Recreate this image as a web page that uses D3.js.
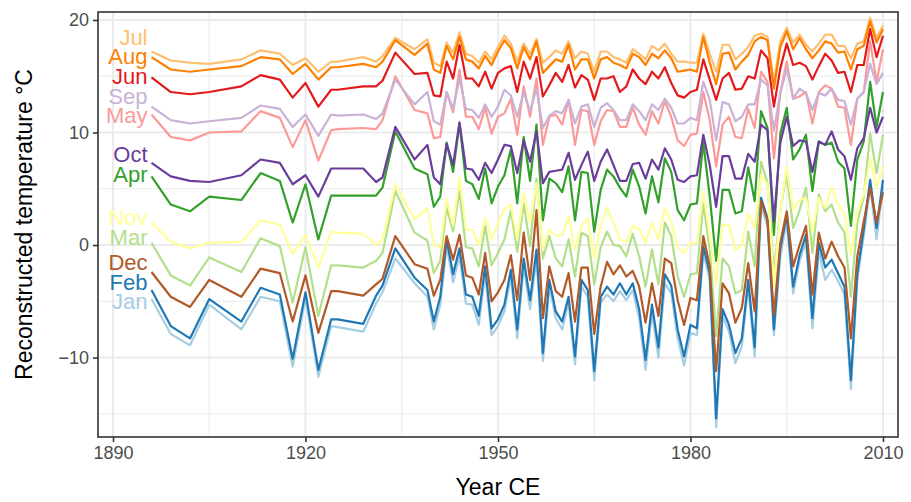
<!DOCTYPE html>
<html>
<head>
<meta charset="utf-8">
<script src="https://cdn.jsdelivr.net/npm/d3@7"></script>
<style>
  body { margin: 0; background: #fff; }
  text { font-family: "Liberation Sans", Arial, Helvetica, sans-serif; }
</style>
</head>
<body>
<div class="chart"></div>
<script>
// years with a reconstruction (sparse before 1939)
const years = [1896,1899,1902,1905,1910,1913,1916,1918,1920,1922,1924,1925,
  1929,1931,1932,1934,1937,
  1939,1940,1941,1942,1943,1944,1945,1946,1947,1948,1949,1950,1951,1952,1953,1954,
  1955,1956,1957,1958,1959,1960,1961,1962,1963,1964,1965,1966,1967,1968,1969,1970,
  1971,1972,1973,1974,1975,1976,1977,1978,1979,1980,1981,1982,1983,1984,1985,1986,
  1987,1988,1989,1990,1991,1992,1993,1994,1995,1996,1997,1998,1999,2000,2001,2002,
  2003,2004,2005,2006,2007,2008,2009,2010];

// monthly temperatures, one list per month (degrees C)
const jan = [-4.8,-7.9,-8.9,-5.3,-7.5,-4.6,-5.0,-10.8,-4.7,-11.7,-7.2,-7.3,
  -7.7,-5.2,-4.2,-1.2,-3.4,-4.6,-7.5,-5.3,-0.1,-3.3,-1.0,-5.2,-5.3,-7.1,-2.6,
  -8.0,-7.2,-5.9,-2.8,-8.3,-1.9,-5.7,-1.2,-10.3,-3.7,-6.5,-7.5,-5.1,-10.6,-3.7,-4.6,-12.0,-5.1,-4.4,-5.0,-4.1,
  -4.9,-4.0,-6.5,-11.1,-6.0,-10.0,-3.4,-4.3,-8.3,-10.7,-7.8,-8.0,-0.7,-3.1,-16.2,-6.3,-7.7,-10.5,-9.0,-3.7,
  -9.9,3.4,1.7,-8.0,-1.0,2.1,-4.3,-1.4,0.3,-7.4,-0.6,-3.1,-2.2,-3.2,-4.4,-12.8,-3.1,0.8,5.2,0.5,5.2];
const feb = [-4.0,-7.2,-8.3,-4.8,-6.8,-3.8,-4.4,-10.1,-4.2,-11.1,-6.6,-6.6,
  -7.0,-4.5,-3.6,-0.3,-2.9,-4.0,-6.8,-4.6,0.5,-2.6,-0.3,-4.4,-4.6,-6.3,-1.9,
  -7.4,-6.6,-5.3,-2.2,-7.5,-1.2,-4.9,-0.4,-9.6,-3.1,-5.9,-6.8,-4.6,-9.9,-3.1,-4.0,-11.2,-4.6,-3.7,-4.4,-3.4,
  -4.4,-3.4,-5.7,-10.2,-5.3,-9.1,-2.6,-3.6,-7.5,-9.9,-7.1,-7.4,-0.1,-2.5,-15.4,-5.7,-7.1,-9.6,-8.3,-3.1,
  -9.1,4.2,2.4,-7.5,-0.3,2.7,-3.7,-0.9,0.9,-6.5,0.2,-2.0,-1.3,-2.5,-3.7,-12.0,-2.5,1.4,5.8,1.5,5.8];
const mar = [0.2,-2.7,-3.6,-1.1,-2.4,0.6,-0.1,-5.1,-0.2,-6.3,-1.8,-1.8,
  -2.0,-1.4,-0.7,4.8,1.1,0.4,-2.5,-1.4,3.3,1.2,4.8,-0.2,-0.3,-1.9,1.7,
  -1.8,-0.7,0.5,3.1,-0.6,3.7,-0.1,5.9,-1.2,0.8,-1.2,-1.9,0.5,-2.8,1.1,0.8,-3.5,-0.2,1.2,0.0,-0.1,
  -1.0,1.0,-1.0,-3.7,-0.4,-3.5,2.0,0.8,-2.8,-4.6,-2.6,-2.5,3.7,-0.4,-8.1,-1.2,-1.9,-4.3,-4.0,1.2,
  -1.9,7.4,5.5,-2.5,3.1,6.4,1.5,3.1,5.1,-0.7,4.5,3.0,3.6,2.0,1.1,-4.6,2.0,4.3,9.9,6.4,9.8];
const apr = [6.1,3.6,3.0,4.3,4.0,6.4,5.7,2.0,5.4,0.5,4.4,4.4,
  4.4,4.4,5.1,10.1,6.8,6.3,3.4,4.3,9.1,6.5,10.8,5.7,5.4,4.1,6.8,
  3.7,5.2,6.2,8.5,3.7,9.6,5.7,10.7,2.2,5.9,5.5,4.7,7.0,2.2,6.5,6.4,1.2,4.9,6.7,6.1,5.1,
  4.3,6.7,5.2,2.8,6.1,3.8,7.7,6.5,3.1,2.2,3.6,3.7,9.1,4.3,-1.4,4.9,4.9,2.8,3.0,6.9,
  3.9,11.9,10.4,0.9,9.9,12.2,7.6,8.5,9.8,4.8,9.2,8.9,9.1,7.4,6.8,1.7,7.6,9.2,14.5,10.5,13.6];
const may = [11.6,9.6,9.3,10.0,10.1,11.9,11.3,8.7,11.1,7.5,10.2,10.3,
  10.4,10.3,11.1,15.0,12.0,11.7,9.5,9.6,13.6,11.8,15.6,11.4,11.4,10.3,12.2,
  9.9,11.4,11.7,13.0,9.8,14.1,11.4,14.8,8.9,11.4,11.6,10.7,12.9,8.9,12.0,11.9,8.9,11.0,12.0,11.9,10.5,
  10.5,12.2,10.7,9.8,11.9,10.8,12.8,11.4,9.3,8.8,9.8,9.9,13.6,11.1,7.0,10.7,11.4,9.6,9.5,12.1,
  10.4,15.4,14.5,7.7,13.6,16.3,13.0,13.2,13.6,10.8,13.6,14.2,13.9,12.3,12.2,8.9,13.0,13.6,18.1,14.5,17.4];
const jun = [14.9,13.6,13.4,13.6,14.1,15.1,14.7,13.1,14.4,12.3,13.8,13.8,
  14.1,14.1,14.6,17.1,15.2,15.3,13.3,13.2,16.3,14.8,17.8,14.8,14.8,14.1,15.4,
  13.9,15.3,15.7,15.9,13.6,16.3,14.8,16.7,13.2,14.2,15.3,14.5,16.0,14.0,15.1,14.7,12.9,14.8,14.8,15.0,13.6,
  14.1,15.6,14.8,14.3,15.4,14.8,15.8,14.4,13.3,13.1,13.6,13.8,16.5,14.7,12.9,14.8,15.3,13.8,13.9,15.0,
  14.8,17.3,16.6,12.3,15.7,17.9,16.0,16.2,15.9,14.7,15.9,17.0,16.4,15.3,15.4,13.6,16.0,16.0,19.2,16.7,18.6];
const jul = [17.2,16.4,16.2,16.1,16.5,17.3,17.0,16.0,16.6,15.4,16.3,16.3,
  16.7,16.3,16.8,18.4,17.4,18.3,16.2,15.9,18.0,17.1,18.9,17.0,16.8,16.2,17.2,
  16.5,17.6,18.6,17.9,16.3,17.9,17.0,18.3,16.2,16.7,17.3,17.0,18.1,16.6,17.2,17.0,15.4,17.2,17.2,16.7,16.5,
  16.2,17.4,17.0,16.5,17.7,17.3,17.9,17.0,16.3,16.3,16.2,16.2,18.8,17.0,15.4,17.8,17.8,16.5,17.0,17.6,
  18.6,18.8,18.5,14.5,18.1,19.3,18.0,18.7,17.8,17.2,17.9,18.7,18.7,17.7,17.7,16.6,17.9,18.1,20.2,18.4,19.5];
const aug = [16.7,15.6,15.4,15.6,15.9,16.7,16.5,15.2,16.1,14.7,15.8,15.8,
  16.1,15.8,16.3,18.2,16.9,17.9,15.6,15.3,17.7,16.5,18.5,16.5,16.3,15.7,16.8,
  16.0,17.2,18.2,17.5,15.7,17.6,16.5,18.1,15.3,15.9,16.5,16.3,17.8,15.6,16.5,16.5,14.8,16.5,16.7,16.2,16.0,
  15.7,17.0,16.7,16.0,17.0,16.6,17.3,16.6,15.4,15.5,15.6,15.4,18.5,16.2,14.3,17.0,17.1,15.6,16.3,16.9,
  18.1,18.5,18.2,13.9,17.6,19.0,17.4,18.4,17.4,16.6,17.3,18.1,17.9,17.1,17.2,15.6,17.4,17.7,19.9,18.0,19.2];
const sep = [12.3,11.1,10.8,11.0,11.3,12.4,12.1,10.5,11.6,9.7,11.6,11.5,
  11.6,11.2,11.7,14.7,12.5,13.6,11.0,10.7,13.6,12.1,14.8,12.1,12.0,11.3,12.5,
  11.4,12.3,13.8,13.3,11.4,13.6,11.9,13.9,10.4,11.5,11.9,11.7,12.9,10.8,12.3,12.5,10.5,12.2,12.6,12.0,11.1,
  11.1,12.5,11.9,11.1,12.5,12.0,13.0,12.2,10.8,10.8,11.3,11.1,14.5,12.9,9.3,12.7,12.5,11.0,11.4,12.5,
  12.5,14.7,14.2,10.2,13.5,15.7,13.0,13.9,13.5,12.0,13.5,13.3,13.9,12.9,12.8,10.7,13.0,13.6,16.1,14.3,15.3];
const oct = [7.3,6.1,5.7,5.6,6.2,7.6,7.3,5.4,6.2,4.3,6.8,6.8,
  6.8,5.6,6.0,10.5,7.6,8.9,6.0,5.4,9.0,7.1,10.9,6.8,6.7,5.8,7.3,
  6.4,7.6,8.9,8.8,6.4,9.3,7.4,10.1,5.5,6.5,6.6,6.7,8.2,5.8,7.1,8.3,5.7,7.4,8.5,7.1,5.7,
  5.7,7.2,7.3,5.9,7.6,6.7,8.6,7.6,5.8,5.6,6.1,6.2,9.8,7.1,3.4,7.9,7.9,5.9,5.9,8.1,
  7.4,10.7,10.2,2.1,9.1,11.4,8.8,9.3,9.2,6.5,9.2,8.9,10.1,8.5,7.9,5.8,8.6,9.5,12.2,10.0,11.4];
const nov = [2.0,0.3,-0.3,0.2,0.3,2.2,1.8,-0.8,0.9,-2.0,1.2,1.1,
  1.0,0.0,0.5,5.4,2.3,3.3,0.0,-0.2,4.1,1.7,6.0,1.4,1.3,0.0,2.4,
  0.5,2.0,3.2,3.6,0.5,4.6,2.0,5.5,-0.4,1.4,0.8,0.9,2.5,-0.4,1.7,2.4,-1.2,1.7,3.3,2.0,0.5,
  0.3,1.7,1.4,0.2,2.0,0.5,3.3,2.1,-0.2,-0.7,0.2,0.2,4.8,0.8,-3.5,1.8,1.8,-0.4,0.0,2.8,
  1.5,6.2,5.4,-3.7,3.1,7.0,3.1,4.0,4.2,1.2,4.2,3.3,5.1,3.6,2.8,-0.9,3.0,4.5,7.7,5.1,7.0];
const dec = [-2.4,-4.6,-5.5,-3.1,-4.6,-2.1,-2.5,-6.8,-2.7,-7.8,-4.1,-4.1,
  -4.5,-3.5,-3.0,0.8,-1.7,-2.1,-4.5,-3.1,0.8,-1.3,0.9,-2.7,-2.9,-4.4,-0.7,
  -5.0,-4.2,-3.1,-0.9,-4.9,1.1,-3.1,3.1,-6.5,-1.9,-4.1,-4.6,-2.5,-6.8,-2.0,-2.0,-7.9,-3.7,-1.5,-2.6,-1.8,
  -2.8,-2.3,-3.7,-6.9,-3.4,-6.3,-1.2,-1.6,-4.9,-7.1,-4.7,-4.9,0.8,-1.9,-11.2,-3.4,-4.3,-6.9,-5.6,-1.6,
  -5.9,3.9,2.2,-6.2,0.2,3.0,-1.9,0.0,1.7,-4.4,1.1,-1.2,0.3,-1.0,-2.0,-8.3,-1.0,2.1,5.1,2.0,4.7];

const monthNames = ["Jan","Feb","Mar","Apr","May","Jun","Jul","Aug","Sep","Oct","Nov","Dec"];
const monthValues = [jan, feb, mar, apr, may, jun, jul, aug, sep, oct, nov, dec];
const monthColors = ["#a6cee3","#1f78b4","#b2df8a","#33a02c","#fb9a99","#e31a1c",
                     "#fdbf6f","#ff7f00","#cab2d6","#6a3d9a","#ffff99","#b15928"];

const xTicks = [1890, 1920, 1950, 1980, 2010];
const xMinor = [1905, 1935, 1965, 1995];
const yTicks = [-10, 0, 10, 20];
const yMinor = [-15, -5, 5, 15];

// build the series
const series = monthNames.map((m, i) => ({
  name: m,
  color: monthColors[i],
  points: years.map((yr, j) => ({year: yr, temp: monthValues[i][j]}))
}));

const width = 911;
const height = 502;
const margin = {top: 12, right: 13, bottom: 65, left: 98};

const svg = d3.select('.chart')
  .append('svg')
  .attr('width', width)
  .attr('height', height);

// scales (padded like the reference panel)
const x = d3.scaleLinear()
  .domain([1887.66, 2012.34])
  .range([margin.left, width - margin.right]);
const y = d3.scaleLinear()
  .domain([-17.06, 20.71])
  .range([height - margin.bottom, margin.top]);

const x0 = margin.left, x1 = width - margin.right;
const y0 = height - margin.bottom, y1 = margin.top;

// grid
const grid = svg.append('g');
grid.selectAll('.xminor').data(xMinor).enter().append('line')
  .attr('x1', d => x(d)).attr('x2', d => x(d)).attr('y1', y0).attr('y2', y1)
  .attr('stroke', '#ebebeb').attr('stroke-width', 1.1);
grid.selectAll('.yminor').data(yMinor).enter().append('line')
  .attr('y1', d => y(d)).attr('y2', d => y(d)).attr('x1', x0).attr('x2', x1)
  .attr('stroke', '#ebebeb').attr('stroke-width', 1.1);
grid.selectAll('.xmajor').data(xTicks).enter().append('line')
  .attr('x1', d => x(d)).attr('x2', d => x(d)).attr('y1', y0).attr('y2', y1)
  .attr('stroke', '#ebebeb').attr('stroke-width', 2);
grid.selectAll('.ymajor').data(yTicks).enter().append('line')
  .attr('y1', d => y(d)).attr('y2', d => y(d)).attr('x1', x0).attr('x2', x1)
  .attr('stroke', '#ebebeb').attr('stroke-width', 2);

// lines
const line = d3.line()
  .x(d => x(d.year))
  .y(d => y(d.temp));

svg.append('g').selectAll('path')
  .data(series)
  .enter()
  .append('path')
  .attr('d', d => line(d.points))
  .attr('fill', 'none')
  .attr('stroke', d => d.color)
  .attr('stroke-width', 2.2)
  .attr('stroke-linejoin', 'round');

// month labels at the start of each line, pushed apart so they don't overlap
const gap = 19.7;
const labels = series.map(s => ({name: s.name, color: s.color, pos: y(s.points[0].temp)}))
  .sort((a, b) => a.pos - b.pos);
for (let k = 0; k < 300; k++) {
  for (let i = 1; i < labels.length; i++) {
    const diff = labels[i].pos - labels[i - 1].pos;
    if (diff < gap) {
      const push = (gap - diff) / 2;
      labels[i - 1].pos -= push;
      labels[i].pos += push;
    }
  }
}
svg.append('g').selectAll('text')
  .data(labels)
  .enter()
  .append('text')
  .text(d => d.name)
  .attr('x', x(years[0]) - 4)
  .attr('y', d => d.pos - 5)
  .attr('text-anchor', 'end')
  .attr('dominant-baseline', 'central')
  .attr('font-size', 22)
  .attr('fill', d => d.color);

// panel border
svg.append('rect')
  .attr('x', x0).attr('y', y1)
  .attr('width', x1 - x0).attr('height', y0 - y1)
  .attr('fill', 'none')
  .attr('stroke', '#333333')
  .attr('stroke-width', 1.6);

// axes
const xAxis = svg.append('g')
  .attr('transform', 'translate(0,' + y0 + ')')
  .call(d3.axisBottom(x).tickValues(xTicks).tickFormat(d3.format('d')).tickSize(5).tickPadding(4));
const yAxis = svg.append('g')
  .attr('transform', 'translate(' + x0 + ',0)')
  .call(d3.axisLeft(y).tickValues(yTicks).tickSize(5).tickPadding(4));

[xAxis, yAxis].forEach(a => {
  a.select('.domain').remove();
  a.selectAll('.tick line').attr('stroke', '#333333').attr('stroke-width', 1.6);
  a.selectAll('.tick text')
    .attr('fill', '#4d4d4d')
    .attr('font-size', 18)
    .style('font-family', '"Liberation Sans", Arial, sans-serif');
});

// axis titles
svg.append('text')
  .text('Year CE')
  .attr('x', (x0 + x1) / 2)
  .attr('y', 495)
  .attr('text-anchor', 'middle')
  .attr('font-size', 23)
  .attr('fill', '#000');

svg.append('text')
  .text('Reconstructed temperature °C')
  .attr('transform', 'translate(32,' + ((y0 + y1) / 2) + ') rotate(-90)')
  .attr('text-anchor', 'middle')
  .attr('font-size', 23)
  .attr('fill', '#000');
</script>
</body>
</html>
